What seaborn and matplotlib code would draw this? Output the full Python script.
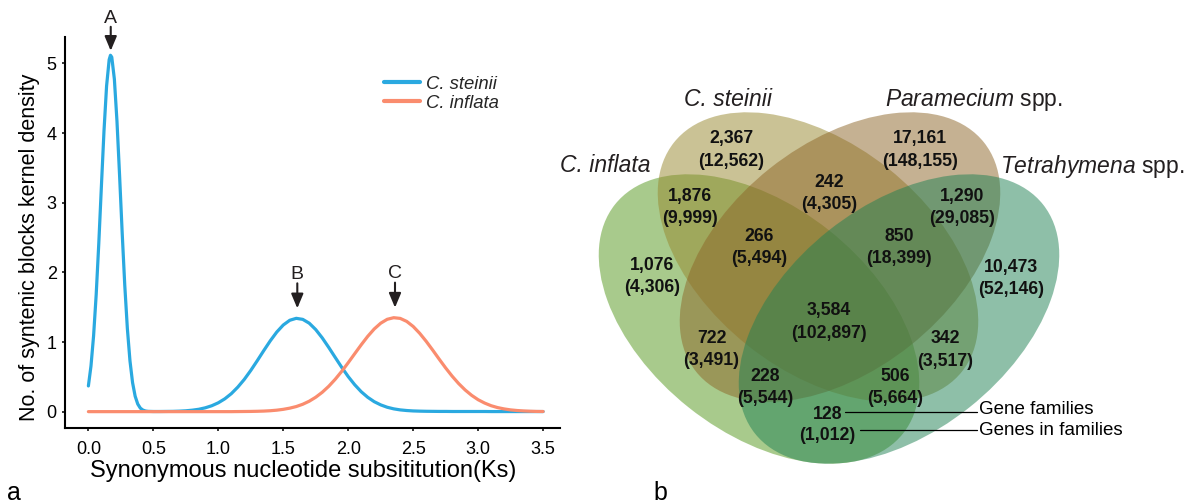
import matplotlib
matplotlib.use("Agg")
import matplotlib.pyplot as plt
from matplotlib.patches import Ellipse
import pandas as pd
import seaborn as sns

# ---------------- data: panel a (Ks kernel density) ----------------
species = ["C. steinii", "C. inflata"]

steinii_ks = [0.00, 0.02, 0.04, 0.06, 0.08, 0.10, 0.12, 0.14, 0.16, 0.17,
              0.18, 0.20, 0.22, 0.24, 0.26, 0.28, 0.30, 0.32, 0.34, 0.36,
              0.38, 0.40, 0.42, 0.44, 0.46,
              0.50, 0.55, 0.60, 0.65, 0.70, 0.75, 0.80, 0.85, 0.90, 0.95,
              1.00, 1.05, 1.10, 1.15, 1.20, 1.25, 1.30, 1.35, 1.40, 1.45,
              1.50, 1.55, 1.60, 1.65, 1.70, 1.75, 1.80, 1.85, 1.90, 1.95,
              2.00, 2.05, 2.10, 2.15, 2.20, 2.25, 2.30, 2.35, 2.40, 2.45,
              2.50, 2.55, 2.60, 2.65, 2.70, 2.75, 2.80, 2.85, 2.90, 2.95,
              3.00, 3.05, 3.10, 3.15, 3.20, 3.25, 3.30, 3.35, 3.40, 3.45,
              3.50]
steinii_density = [0.369, 0.656, 1.088, 1.679, 2.413, 3.230, 4.026, 4.675, 5.055, 5.118,
                   5.091, 4.775, 4.172, 3.395, 2.572, 1.815, 1.193, 0.731, 0.417, 0.221,
                   0.109, 0.050, 0.022, 0.009, 0.004,
                   0.002, 0.002, 0.003, 0.004, 0.007, 0.012, 0.021, 0.034, 0.055, 0.085,
                   0.127, 0.184, 0.258, 0.352, 0.463, 0.592, 0.732, 0.877, 1.017, 1.143,
                   1.244, 1.312, 1.340, 1.325, 1.270, 1.178, 1.059, 0.922, 0.778, 0.636,
                   0.503, 0.386, 0.286, 0.206, 0.143, 0.097, 0.063, 0.040, 0.025, 0.016,
                   0.010, 0.007, 0.005, 0.004, 0.003, 0.003, 0.002, 0.002, 0.002, 0.002,
                   0.002, 0.002, 0.001, 0.001, 0.001, 0.001, 0.001, 0.001, 0.001, 0.001,
                   0.001]

inflata_ks = [0.00, 0.05, 0.10, 0.15, 0.20, 0.25, 0.30, 0.35, 0.40, 0.45,
              0.50, 0.55, 0.60, 0.65, 0.70, 0.75, 0.80, 0.85, 0.90, 0.95,
              1.00, 1.05, 1.10, 1.15, 1.20, 1.25, 1.30, 1.35, 1.40, 1.45,
              1.50, 1.55, 1.60, 1.65, 1.70, 1.75, 1.80, 1.85, 1.90, 1.95,
              2.00, 2.05, 2.10, 2.15, 2.20, 2.25, 2.30, 2.35, 2.40, 2.45,
              2.50, 2.55, 2.60, 2.65, 2.70, 2.75, 2.80, 2.85, 2.90, 2.95,
              3.00, 3.05, 3.10, 3.15, 3.20, 3.25, 3.30, 3.35, 3.40, 3.45,
              3.50]
inflata_density = [0.000, 0.000, 0.000, 0.000, 0.000, 0.000, 0.000, 0.000, 0.000, 0.000,
                   0.000, 0.000, 0.000, 0.000, 0.000, 0.000, 0.000, 0.000, 0.000, 0.000,
                   0.000, 0.000, 0.000, 0.001, 0.002, 0.003, 0.005, 0.008, 0.013, 0.021,
                   0.033, 0.050, 0.073, 0.106, 0.150, 0.207, 0.278, 0.364, 0.465, 0.579,
                   0.703, 0.832, 0.960, 1.081, 1.187, 1.270, 1.326, 1.349, 1.339, 1.296,
                   1.223, 1.125, 1.010, 0.884, 0.754, 0.627, 0.509, 0.403, 0.311, 0.234,
                   0.171, 0.123, 0.085, 0.058, 0.039, 0.025, 0.016, 0.010, 0.006, 0.003,
                   0.002]

peak_labels = ["A", "B", "C"]
peak_ks = [0.172, 1.608, 2.36]
peak_density = [5.11, 1.34, 1.35]

ks_ticks = [0.0, 0.5, 1.0, 1.5, 2.0, 2.5, 3.0, 3.5]
density_ticks = [0, 1, 2, 3, 4, 5]

# ---------------- data: panel b (4-set Venn) ----------------
set_keys = ["I", "S", "P", "T"]
set_genus = ["C. inflata", "C. steinii", "Paramecium", "Tetrahymena"]
set_suffix = ["", "", " spp.", " spp."]

region_keys = ["I", "S", "P", "T", "IS", "SP", "PT", "ISP", "SPT",
               "ISPT", "IP", "ST", "IPT", "IST", "IT"]
region_families = [1076, 2367, 17161, 10473, 1876, 242, 1290, 266, 850,
                   3584, 722, 342, 228, 506, 128]
region_genes = [4306, 12562, 148155, 52146, 9999, 4305, 29085, 5494, 18399,
                102897, 3491, 3517, 5544, 5664, 1012]
key_labels = ["Gene families", "Genes in families"]

# ---------------- style ----------------
sns.set_theme(style="ticks")
plt.rcParams["font.family"] = ["Liberation Sans", "DejaVu Sans"]
plt.rcParams["mathtext.fontset"] = "custom"
plt.rcParams["mathtext.it"] = "Liberation Sans:italic"
plt.rcParams["mathtext.rm"] = "Liberation Sans"
INK = "#231f20"
line_colors = ["#2aa9e0", "#fa8c6e"]
set_colors = {"I": "#53971b", "S": "#97872d", "P": "#8d6527", "T": "#1f8153"}

W, H = 1190, 504
fig = plt.figure(figsize=(W / 100, H / 100), dpi=100)

# ---------------- panel a ----------------
ax = fig.add_axes([65 / W, 76 / H, 495 / W, 391 / H])
df = pd.DataFrame({
    "ks": steinii_ks + inflata_ks,
    "density": steinii_density + inflata_density,
    "species": [species[0]] * len(steinii_ks) + [species[1]] * len(inflata_ks),
})
sns.lineplot(data=df, x="ks", y="density", hue="species", hue_order=species,
             palette=dict(zip(species, line_colors)), estimator=None, sort=False,
             linewidth=2.3, ax=ax)
ax.set_xlim(-0.18, 3.63)
ax.set_ylim(-0.235, 5.38)
ax.set_xticks(ks_ticks)
ax.set_xticklabels([f"{t:.1f}" for t in ks_ticks])
ax.set_yticks(density_ticks)
ax.set_yticklabels([str(t) for t in density_ticks])
sns.despine(ax=ax)
for s in ["left", "bottom"]:
    ax.spines[s].set_linewidth(1.5)
    ax.spines[s].set_color("black")
ax.tick_params(axis="x", length=2.5, width=1.1, labelsize=13, pad=7, colors="black")
ax.tick_params(axis="y", length=2.5, width=1.1, labelsize=13, pad=3.5, colors="black")
ax.set_xlabel("Synonymous nucleotide subsititution(Ks)", fontsize=17, color="black")
ax.set_ylabel("No. of syntenic blocks kernel density", fontsize=15.5, color="black")
ax.xaxis.set_label_coords((303 - 65) / 495, (428 - 460) / 391)
ax.yaxis.set_label_coords((40 - 65) / 495, (428 - 247) / 391)

old = ax.get_legend()
handles = old.legend_handles
labels = [t.get_text() for t in old.get_texts()]
old.remove()
for h in handles:
    h.set_linewidth(3)
ax.legend(handles, labels, loc="upper left",
          bbox_to_anchor=((384 - 65) / 495, (428 - 75.7) / 391),
          frameon=False, borderpad=0, borderaxespad=0, handlelength=1.95,
          handletextpad=0.3, labelspacing=0.1,
          prop={"style": "italic", "size": 13.3})

arrow_tip_gap = [5, 10, 10]      # pixels between arrow tip and peak
arrow_len = [24, 25, 25]
label_gap = [37, 44, 44]
for lab, x, y, g, L, lg in zip(peak_labels, peak_ks, peak_density,
                               arrow_tip_gap, arrow_len, label_gap):
    ax.annotate("", xy=(x, y), xytext=(0, g + L), textcoords="offset pixels",
                xycoords="data",
                arrowprops=dict(arrowstyle="-|>,head_length=0.62,head_width=0.26",
                                color=INK, lw=1.5, shrinkA=0, shrinkB=g * 0.72,
                                mutation_scale=14))
    ax.annotate(lab, xy=(x, y), xytext=(0, lg), textcoords="offset pixels",
                ha="center", va="center", fontsize=14, color=INK)

# ---------------- panel b (pixel-space overlay) ----------------
ov = fig.add_axes([0, 0, 1, 1])
ov.set_xlim(0, W)
ov.set_ylim(H, 0)
ov.axis("off")
ov.patch.set_visible(False)

ellipse_geom = {"I": (759, 319, 38.5), "S": (818, 257, 38.5),
                "P": (840, 257, -38.5), "T": (899, 319, -38.5)}
for k in set_keys:
    cx, cy, ang = ellipse_geom[k]
    ov.add_patch(Ellipse((cx, cy), width=368, height=226, angle=ang,
                         facecolor=set_colors[k], edgecolor="none", alpha=0.5))

# set labels
set_label_pos = {"I": (651, 172, "right"), "S": (728.5, 106, "center"),
                 "P": (885, 106, "left"), "T": (1000, 173, "left")}
for k, genus, suf in zip(set_keys, set_genus, set_suffix):
    x, y, ha = set_label_pos[k]
    if suf:
        txt = r"$\mathit{" + genus + "}$" + suf
        ov.text(x, y, txt, ha=ha, va="baseline", fontsize=16.5, color=INK)
    else:
        ov.text(x, y, genus, ha=ha, va="baseline", fontsize=16.5,
                style="italic", color=INK)

region_pos = {"I": (652, 263.5, 285.5), "S": (731.5, 137, 160),
              "P": (920, 137, 159.5), "T": (1011, 265.5, 288),
              "IS": (690, 195, 217), "SP": (829, 180.5, 203),
              "PT": (962, 195, 217), "ISP": (759, 235, 257),
              "SPT": (899, 235, 257), "ISPT": (829, 308.5, 331.5),
              "IP": (711.5, 337, 358.5), "ST": (945, 337, 359.5),
              "IPT": (765, 375, 397), "IST": (895, 375, 397),
              "IT": (827.5, 412.5, 433.5)}
for k, fam, gen in zip(region_keys, region_families, region_genes):
    x, y1, y2 = region_pos[k]
    ov.text(x, y1 + 6.3, f"{fam:,}", ha="center", va="baseline",
            fontsize=12.7, fontweight="bold", color="#111111")
    ov.text(x, y2 + 6.3, f"({gen:,})", ha="center", va="baseline",
            fontsize=12.7, fontweight="bold", color="#111111")

# key lines
ov.plot([845, 977], [412.3, 412.3], color="black", lw=0.9)
ov.plot([860, 977], [430.3, 430.3], color="black", lw=0.9)
ov.text(979, 413.5, key_labels[0], ha="left", va="baseline", fontsize=13.5, color="black")
ov.text(979, 435, key_labels[1], ha="left", va="baseline", fontsize=13.5, color="black")

# panel letters
ov.text(14, 500, "a", ha="center", va="baseline", fontsize=18, color="black")
ov.text(660, 500.5, "b", ha="center", va="baseline", fontsize=18, color="black")

fig.savefig("out.png", dpi=100)
